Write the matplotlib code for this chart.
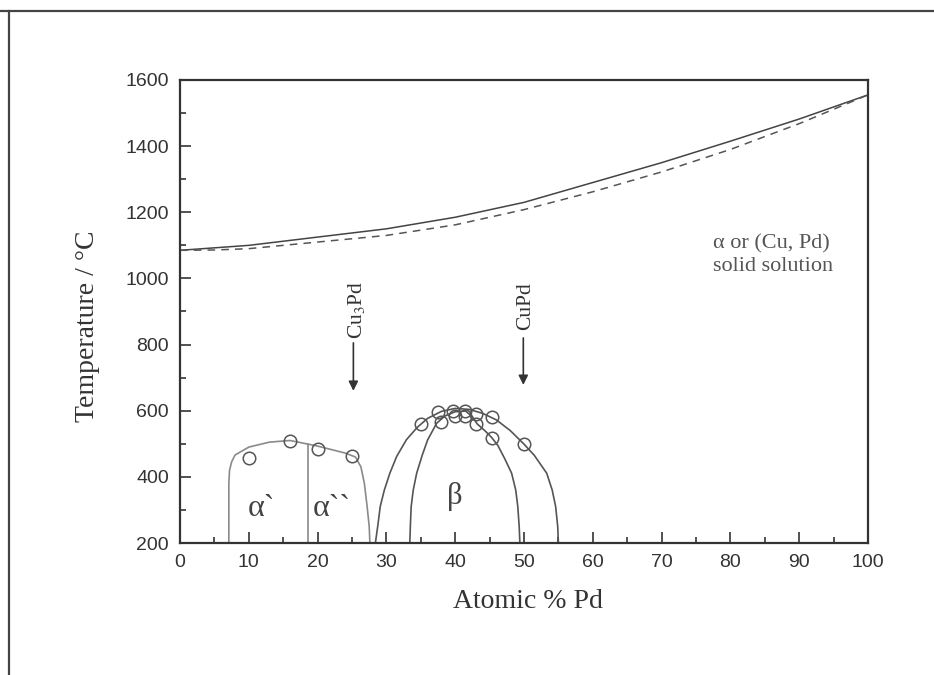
import matplotlib
matplotlib.use("Agg")
import matplotlib.pyplot as plt
from matplotlib.lines import Line2D
from matplotlib.ticker import MultipleLocator

# liquidus / solidus of the Cu-Pd system
x_liq = [0, 10, 20, 30, 40, 50, 60, 70, 80, 90, 100]
t_liq = [1085, 1100, 1125, 1150, 1185, 1230, 1290, 1350, 1415, 1482, 1555]
x_sol = [0, 5, 10, 20, 30, 40, 50, 60, 70, 80, 90, 100]
t_sol = [1085, 1086, 1090, 1110, 1130, 1162, 1208, 1262, 1322, 1390, 1468, 1555]

# alpha' / alpha'' ordered region boundary
x_alpha = [7.1, 7.1, 7.2, 7.5, 8.0, 10, 13, 16, 20, 24, 25.5, 26.3, 26.8, 27.2, 27.5, 27.6]
t_alpha = [200, 380, 420, 445, 466, 490, 505, 510, 493, 472, 460, 430, 380, 310, 250, 200]
x_alpha_div = [18.6, 18.6]
t_alpha_div = [200, 498]

# beta (CuPd) domes
x_beta_out = [28.4, 28.8, 29.1, 29.7, 30.5, 31.5, 32.9, 34.5, 36, 38, 40, 42, 44, 46, 48,
              50, 51.5, 52.5, 53.3, 54.1, 54.6, 54.9, 55.0]
t_beta_out = [200, 260, 310, 360, 411, 462, 512, 550, 577, 598, 607, 604, 592, 572, 540,
              499, 465, 435, 411, 360, 310, 250, 200]
x_beta_in = [33.4, 33.5, 33.6, 33.9, 34.4, 35.2, 36.0, 37.3, 38.5, 40, 41.5, 42.5, 43.2,
             44.3, 45.3, 46.2, 47.2, 48.2, 48.8, 49.1, 49.3, 49.4]
t_beta_in = [200, 260, 310, 360, 411, 465, 512, 562, 584, 597, 599, 582, 560,
             540, 519, 495, 455, 411, 360, 310, 250, 200]

# measured points
x_pts_alpha = [10, 16, 20, 25]
t_pts_alpha = [458, 507, 484, 463]
x_pts_beta = [35, 37.5, 38, 39.7, 40, 41.4, 41.4, 43, 43, 45.3, 45.3, 50]
t_pts_beta = [559, 595, 567, 598, 585, 598, 585, 591, 559, 580, 519, 499]

plt.rcParams["mathtext.fontset"] = "stix"
serif = "Liberation Serif"
sans = "Liberation Sans"
ink = "#333333"

fig = plt.figure(figsize=(9.34, 6.75), dpi=100)
ax = fig.add_axes([180 / 934, 1 - 543 / 675, 688 / 934, 463 / 675])

ax.plot(x_liq, t_liq, color="#444444", lw=1.1)
ax.plot(x_sol, t_sol, color="#555555", lw=1.1, ls=(0, (5, 4)))

ax.plot(x_alpha, t_alpha, color="#8a8a8a", lw=1.2)
ax.plot(x_alpha_div, t_alpha_div, color="#8a8a8a", lw=1.2)
ax.plot(x_beta_out, t_beta_out, color="#555555", lw=1.2)
ax.plot(x_beta_in, t_beta_in, color="#555555", lw=1.2)

ax.plot(x_pts_alpha, t_pts_alpha, "o", ms=9, mfc="none", mec="#555555", mew=1.1)
ax.plot(x_pts_beta, t_pts_beta, "o", ms=9, mfc="none", mec="#555555", mew=1.1)

# compound markers
for xc, t_tail, t_tip, t_txt, lab in [(25.2, 805, 660, 905, r"Cu$_3$Pd"),
                                      (49.9, 820, 678, 917, "CuPd")]:
    ax.annotate("", xy=(xc, t_tip), xytext=(xc, t_tail),
                arrowprops=dict(arrowstyle="-|>", color=ink, lw=1.2,
                                mutation_scale=14, shrinkA=0, shrinkB=0))
    ax.text(xc + 0.4, t_txt, lab, rotation=90, ha="center", va="center",
            family=serif, fontsize=15.5, color=ink)

ax.text(9.9, 303, "α`", family=serif, fontsize=23, color="#444444", ha="left", va="center")
ax.text(19.3, 303, "α``", family=serif, fontsize=23, color="#444444", ha="left", va="center")
ax.text(40.0, 342, "β", family=serif, fontsize=22, color="#444444", ha="center", va="center")
ax.text(77.5, 1070, "α or (Cu, Pd)\nsolid solution", family=serif, fontsize=16,
        color="#555555", ha="left", va="center", linespacing=1.25)

ax.set_xlim(0, 100)
ax.set_ylim(200, 1600)
ax.xaxis.set_major_locator(MultipleLocator(10))
ax.xaxis.set_minor_locator(MultipleLocator(5))
ax.yaxis.set_major_locator(MultipleLocator(200))
ax.yaxis.set_minor_locator(MultipleLocator(100))
ax.tick_params(which="both", direction="in", top=False, right=False, color=ink,
               width=1.2, labelcolor=ink, labelsize=14)
ax.tick_params(which="major", length=8, pad=8)
ax.tick_params(which="minor", length=4.5)
for lab in ax.get_xticklabels() + ax.get_yticklabels():
    lab.set_family(sans)
for s in ax.spines.values():
    s.set_color(ink)
    s.set_linewidth(1.6)

fig.text(528 / 934, 1 - 601 / 675, "Atomic % Pd", family=serif, fontsize=20,
         color=ink, ha="center", va="center")
fig.text(88 / 934, 1 - 326 / 675, "Temperature / °C", family=serif, fontsize=20,
         color=ink, ha="center", va="center", rotation=90)

# page frame (top and left edge only)
fig.add_artist(Line2D([0, 1], [1 - 11 / 675, 1 - 11 / 675], color="#444444", lw=1.6))
fig.add_artist(Line2D([9 / 934, 9 / 934], [0, 1 - 11 / 675], color="#444444", lw=1.6))

fig.savefig("out.png", dpi=100, facecolor="white")
